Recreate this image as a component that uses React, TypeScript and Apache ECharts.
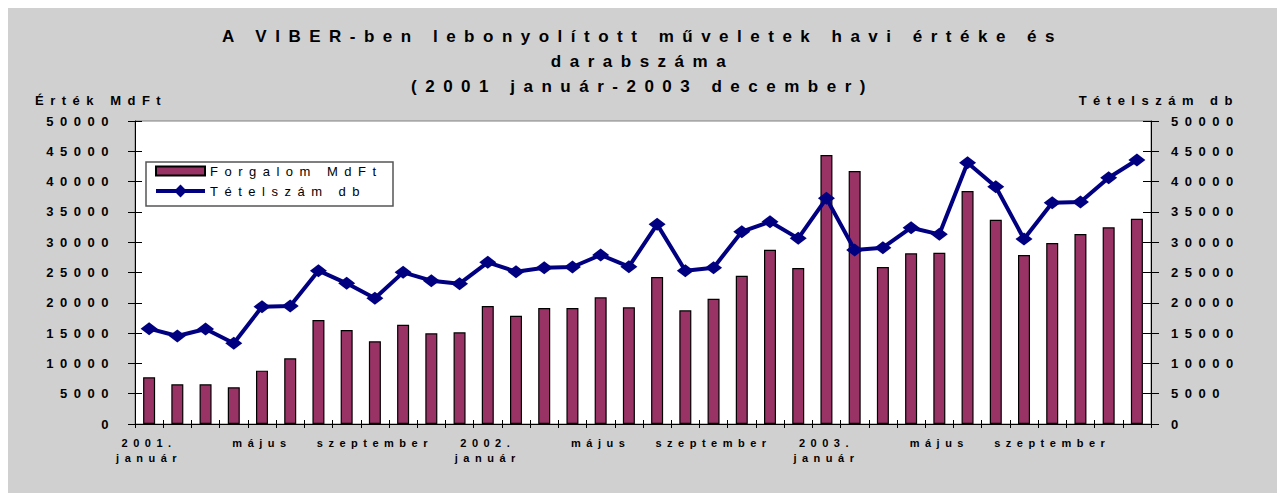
import React, { useEffect, useRef } from "react";
import * as echarts from "echarts";

const months: string[] = [
  "2001.\njanuár", "február", "március", "április", "május", "június",
  "július", "augusztus", "szeptember", "október", "november", "december",
  "2002.\njanuár", "február", "március", "április", "május", "június",
  "július", "augusztus", "szeptember", "október", "november", "december",
  "2003.\njanuár", "február", "március", "április", "május", "június",
  "július", "augusztus", "szeptember", "október", "november", "december",
];

// Forgalom MdFt (bars)
const forgalom: number[] = [
  7700, 6550, 6550, 6050, 8800, 10830, 17160, 15510, 13640, 16390, 14960, 15125,
  19470, 17870, 19140, 19140, 20900, 19250, 24255, 18755, 20680, 24475, 28765, 25740,
  44385, 41745, 25905, 28160, 28270, 38445, 33715, 27885, 29865, 31350, 32450, 33880,
];

// Tételszám db (line)
const tetelszam: number[] = [
  15730, 14520, 15675, 13310, 19360, 19470, 25300, 23210, 20735, 25025, 23650, 23155,
  26675, 25135, 25795, 25905, 27885, 25960, 32945, 25300, 25795, 31735, 33385, 30635,
  37235, 28710, 29095, 32395, 31295, 43120, 39160, 30525, 36520, 36630, 40645, 43560,
];

const titleText = "A VIBER-ben lebonyolított műveletek havi értéke és\ndarabszáma\n(2001 január-2003 december)";
const leftAxisName = "Érték MdFt";
const rightAxisName = "Tételszám db";
const barName = "Forgalom MdFt";
const lineName = "Tételszám db";

const Y_MIN = 0;
const Y_MAX = 50000;
const Y_STEP = 5000;

const FONT = "'Liberation Sans', Arial, sans-serif";

export default function App() {
  const ref = useRef<HTMLDivElement>(null);

  useEffect(() => {
    if (!ref.current) return;
    const chart = echarts.init(ref.current, undefined, { renderer: "svg" });

    const valueAxisBase = {
      type: "value",
      min: Y_MIN,
      max: Y_MAX,
      interval: Y_STEP,
      splitLine: { show: false },
    };

    const option: any = {
      animation: false,
      backgroundColor: "transparent",
      textStyle: { fontFamily: FONT },
      title: {
        text: titleText,
        left: "center",
        top: 16,
        padding: 0,
        textStyle: {
          fontFamily: FONT,
          fontSize: 17,
          fontWeight: "bold",
          color: "#000",
          lineHeight: 25,
        },
      },
      legend: {
        orient: "vertical",
        left: 146,
        top: 156,
        padding: 0,
        itemWidth: 49,
        itemHeight: 16,
        itemGap: 6,
        lineStyle: { width: 4, color: "#000080" },
        textStyle: { fontFamily: FONT, fontSize: 13, color: "#000", lineHeight: 14 },
        data: [
          { name: barName, icon: "path://M0,0H49V9H0Z" },
          { name: lineName },
        ],
      },
      graphic: [
        {
          type: "rect",
          z: 1,
          shape: { x: 138, y: 154, width: 247, height: 44 },
          style: { fill: "#ffffff", stroke: "#555555", lineWidth: 1.5 },
        },
        {
          type: "text",
          x: 27,
          y: 92,
          style: {
            text: leftAxisName,
            font: `bold 13px ${FONT}`,
            fill: "#000",
            textAlign: "left",
            textVerticalAlign: "middle",
          },
        },
        {
          type: "text",
          x: 1231,
          y: 92,
          style: {
            text: rightAxisName,
            font: `bold 13px ${FONT}`,
            fill: "#000",
            textAlign: "right",
            textVerticalAlign: "middle",
          },
        },
      ],
      grid: {
        left: 127,
        right: 126,
        top: 113,
        bottom: 69,
        show: true,
        backgroundColor: "#ffffff",
        borderColor: "#808080",
        borderWidth: 1,
      },
      xAxis: [
        {
          type: "category",
          data: months,
          position: "bottom",
          boundaryGap: true,
          axisLine: { show: true, lineStyle: { color: "#000", width: 1 } },
          axisTick: { show: true, inside: false, length: 4, interval: 0, lineStyle: { color: "#000" } },
          axisLabel: {
            interval: 3,
            margin: 11,
            fontFamily: FONT,
            fontSize: 11,
            fontWeight: "bold",
            color: "#000",
            lineHeight: 15,
          },
        },
        {
          type: "category",
          data: months,
          position: "bottom",
          boundaryGap: true,
          axisLine: { show: false },
          axisTick: { show: true, inside: true, length: 4, interval: 0, lineStyle: { color: "#000" } },
          axisLabel: { show: false },
        },
      ],
      yAxis: [
        {
          ...valueAxisBase,
          position: "left",
          axisLine: { show: true, lineStyle: { color: "#000", width: 1 } },
          axisTick: { show: true, inside: false, length: 7, lineStyle: { color: "#000" } },
          axisLabel: {
            margin: 20,
            fontFamily: FONT,
            fontSize: 13,
            fontWeight: "bold",
            color: "#000",
            formatter: (v: number) => String(v),
          },
        },
        {
          ...valueAxisBase,
          position: "right",
          axisLine: { show: true, lineStyle: { color: "#000", width: 1 } },
          axisTick: { show: true, inside: false, length: 8, lineStyle: { color: "#000" } },
          axisLabel: {
            margin: 20,
            fontFamily: FONT,
            fontSize: 13,
            fontWeight: "bold",
            color: "#000",
            formatter: (v: number) => String(v),
          },
        },
        {
          ...valueAxisBase,
          position: "left",
          axisLine: { show: false },
          axisTick: { show: true, inside: true, length: 7, lineStyle: { color: "#000" } },
          axisLabel: { show: false },
        },
        {
          ...valueAxisBase,
          position: "right",
          axisLine: { show: false },
          axisTick: { show: true, inside: true, length: 8, lineStyle: { color: "#000" } },
          axisLabel: { show: false },
        },
      ],
      series: [
        {
          name: barName,
          type: "bar",
          xAxisIndex: 0,
          yAxisIndex: 0,
          data: forgalom,
          barWidth: 12,
          itemStyle: { color: "#993366", borderColor: "#000", borderWidth: 1.2 },
        },
        {
          name: lineName,
          type: "line",
          xAxisIndex: 0,
          yAxisIndex: 1,
          data: tetelszam,
          symbol: "diamond",
          symbolSize: [17, 13],
          lineStyle: { color: "#000080", width: 4 },
          itemStyle: { color: "#000080" },
          z: 3,
        },
      ],
    };

    chart.setOption(option);
    return () => {
      chart.dispose();
    };
  }, []);

  return (
    <>
      <style>{`#viber-chart text { letter-spacing: 0.5em; }`}</style>
      <div
        id="viber-chart"
        ref={ref}
        style={{ width: 1269, height: 485, background: "#d0d0d0" }}
      />
    </>
  );
}
